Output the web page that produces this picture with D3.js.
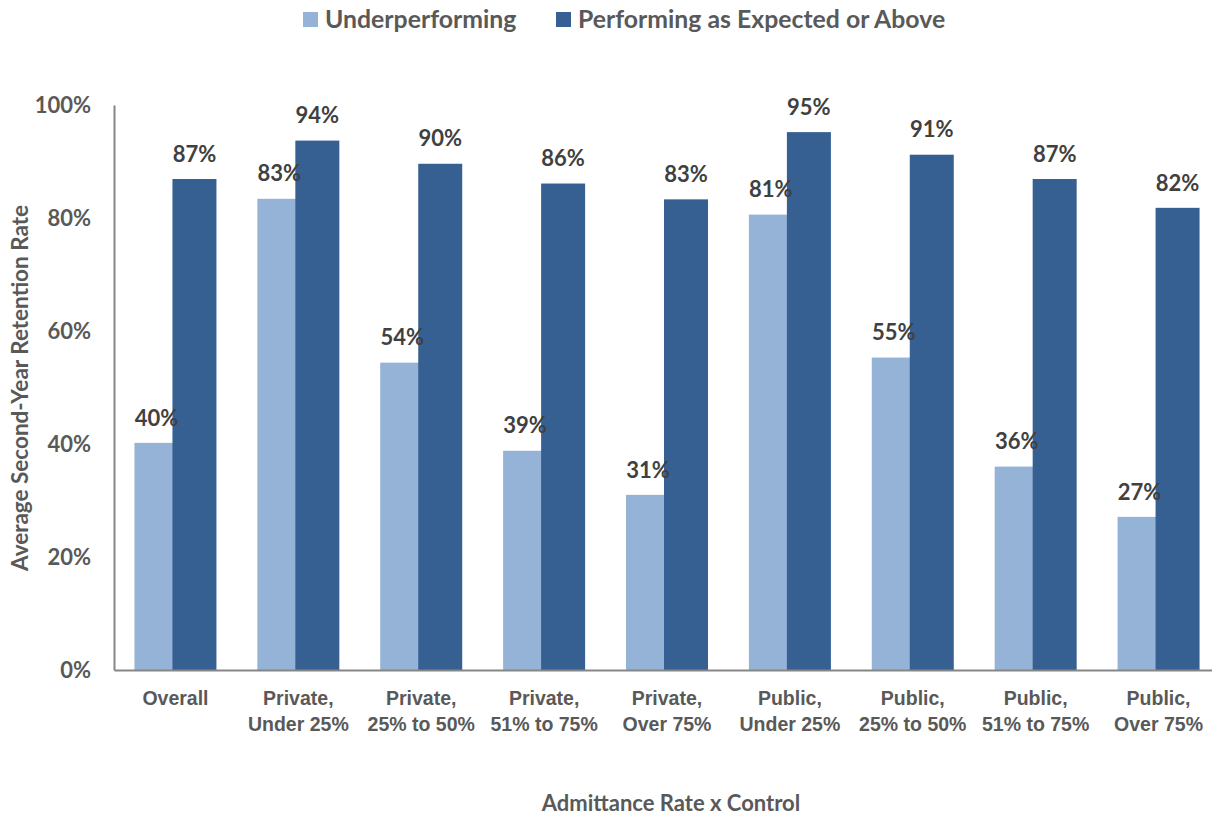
<!DOCTYPE html>
<html>
<head>
<meta charset="utf-8">
<script src="https://cdn.jsdelivr.net/npm/d3@7"></script>
<style>
  body { margin: 0; background: #fff; }
  svg { display: block; font-family: Lato, "Open Sans", sans-serif; font-weight: bold; }
</style>
</head>
<body>
<div id="chart"></div>
<script>
// chart data
const categories = ["Overall", "Private, Under 25%", "Private, 25% to 50%", "Private, 51% to 75%",
    "Private, Over 75%", "Public, Under 25%", "Public, 25% to 50%", "Public, 51% to 75%", "Public, Over 75%"];
const seriesNames = ["Underperforming", "Performing as Expected or Above"];
const underperforming = [0.402, 0.834, 0.544, 0.388, 0.310, 0.806, 0.553, 0.360, 0.271];
const performing = [0.869, 0.937, 0.896, 0.861, 0.833, 0.952, 0.912, 0.869, 0.818];
const yTicks = [0, 0.2, 0.4, 0.6, 0.8, 1.0];

const colors = ["#95B3D7", "#366092"];
const textGray = "#595959";
const labelGray = "#404040";

const width = 1212, height = 817;
const svg = d3.select("#chart").append("svg")
    .attr("width", width)
    .attr("height", height);

// scales
const x = d3.scaleBand().domain(categories).range([114, 1220]).padding(0);
const y = d3.scaleLinear().domain([0, 1]).range([670, 105]);

const barWidth = 44, barShift = 38; // bars overlap a little, like the original
const barX = (cat, i) => x(cat) + x.bandwidth() / 2 - (barWidth + barShift) / 2 + i * barShift;

const series = [underperforming, performing];

// bars
series.forEach((values, i) => {
    svg.append("g").selectAll("rect")
        .data(values.map((v, j) => ({ cat: categories[j], v: v })))
        .join("rect")
        .attr("x", d => barX(d.cat, i))
        .attr("y", d => y(d.v))
        .attr("width", barWidth)
        .attr("height", d => y(0) - y(d.v))
        .attr("fill", colors[i]);
});

// y axis
const yAxis = svg.append("g")
    .attr("transform", "translate(114,0)")
    .call(d3.axisLeft(y).tickValues(yTicks).tickFormat(d3.format(".0%")).tickSize(0).tickSizeOuter(0).tickPadding(23));
yAxis.select(".domain").attr("stroke", "#868686").attr("stroke-width", 2);
yAxis.selectAll("text")
    .attr("fill", textGray)
    .style("font-family", "Lato, sans-serif")
    .style("font-weight", "bold")
    .style("font-size", "22px");

// x axis
const xAxis = svg.append("g")
    .attr("transform", "translate(0,670)")
    .call(d3.axisBottom(x).tickSize(0).tickSizeOuter(0));
xAxis.select(".domain").attr("stroke", "#868686").attr("stroke-width", 2);
xAxis.selectAll("text").remove();
xAxis.selectAll(".tick").each(function(d) {
    const lines = d.split(", ");
    const t = d3.select(this).append("text")
        .attr("fill", textGray)
        .attr("text-anchor", "middle")
        .style("font-size", "19.5px");
    lines.forEach((line, k) => {
        t.append("tspan")
            .attr("x", 0)
            .attr("y", 35 + k * 26)
            .text(lines.length > 1 && k === 0 ? line + "," : line);
    });
});

// data labels
series.forEach((values, i) => {
    svg.append("g").selectAll("text")
        .data(values.map((v, j) => ({ cat: categories[j], v: v })))
        .join("text")
        .attr("x", d => barX(d.cat, i) + barWidth / 2)
        .attr("y", d => y(d.v) - 25)
        .attr("dy", "0.35em")
        .attr("text-anchor", "middle")
        .attr("fill", labelGray)
        .style("font-size", "22px")
        .text(d => d3.format(".0%")(d.v));
});

// axis titles
svg.append("text")
    .attr("x", 671)
    .attr("y", 803)
    .attr("dy", "0.35em")
    .attr("text-anchor", "middle")
    .attr("fill", textGray)
    .style("font-size", "22px")
    .text("Admittance Rate x Control");

svg.append("text")
    .attr("transform", "translate(20,388) rotate(-90)")
    .attr("dy", "0.35em")
    .attr("text-anchor", "middle")
    .attr("fill", textGray)
    .style("font-size", "22.5px")
    .text("Average Second-Year Retention Rate");

// legend
const legendX = [303, 556];
seriesNames.forEach((name, i) => {
    const g = svg.append("g").attr("transform", `translate(${legendX[i]},0)`);
    g.append("rect")
        .attr("x", 0)
        .attr("y", 12)
        .attr("width", 15)
        .attr("height", 15)
        .attr("fill", colors[i]);
    g.append("text")
        .attr("x", 22)
        .attr("y", 19)
        .attr("dy", "0.35em")
        .attr("fill", textGray)
        .style("font-size", "24.8px")
        .text(name);
});
</script>
</body>
</html>
